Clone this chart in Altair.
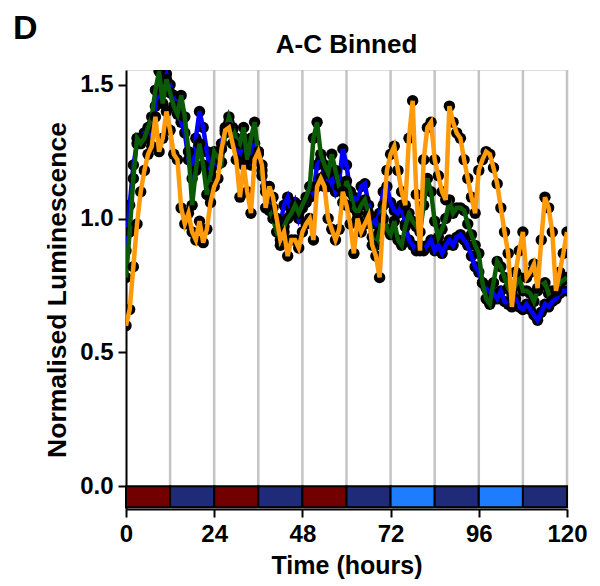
import altair as alt
import pandas as pd

hours = list(range(0, 121))

orange = [0.60, 0.66, 0.82, 0.98, 1.10, 1.18, 1.24, 1.27, 1.38, 1.25,
          1.30, 1.40, 1.33, 1.24, 1.22, 1.04, 0.98, 1.02, 0.95, 0.92,
          0.99, 0.91, 0.96, 1.06, 1.12, 1.15, 1.26, 1.33, 1.34, 1.28,
          1.22, 1.08, 1.20, 1.10, 1.02, 1.22, 1.25, 1.20, 1.04, 1.12,
          1.08, 1.00, 0.92, 0.95, 0.86, 0.92, 0.92, 0.89, 0.95, 0.98,
          1.00, 0.92, 1.12, 1.15, 1.12, 1.00, 0.96, 0.92, 0.96, 1.10,
          1.05, 0.98, 0.87, 1.00, 0.95, 0.98, 1.01, 0.90, 0.86, 0.78,
          1.00, 1.18, 1.24, 1.27, 1.18, 1.10, 1.05, 1.30, 1.44, 1.09,
          0.88, 1.22, 1.34, 1.36, 1.22, 1.16, 1.10, 1.07, 1.42, 1.36,
          1.32, 1.30, 1.22, 1.15, 1.08, 1.02, 1.18, 1.22, 1.25, 1.24,
          1.19, 1.13, 1.04, 0.95, 0.87, 0.67, 0.80, 0.88, 0.95, 0.78,
          0.80, 0.83, 0.74, 0.92, 1.08, 1.04, 0.95, 0.73, 0.80, 0.87,
          0.95]

green = [0.78, 0.95, 1.15, 1.30, 1.28, 1.30, 1.34, 1.38, 1.48, 1.55,
         1.43, 1.52, 1.47, 1.42, 1.39, 1.46, 1.38, 1.25, 1.05, 1.18,
         1.28, 1.20, 1.09, 1.16, 1.25, 1.23, 1.21, 1.32, 1.38, 1.34,
         1.30, 1.28, 1.34, 1.22, 1.30, 1.36, 1.24, 1.16, 1.10, 1.03,
         1.00, 0.95, 0.90, 0.97, 1.00, 1.02, 1.05, 1.02, 1.05, 1.08,
         1.12, 1.30, 1.36, 1.24, 1.20, 1.17, 1.24, 1.18, 1.12, 1.06,
         1.14, 1.10, 1.04, 1.02, 1.05, 1.07, 1.02, 0.93, 0.90, 0.95,
         1.05, 0.96, 0.94, 0.99, 0.92, 0.90, 0.97, 1.02, 0.99, 0.97,
         0.95, 1.05, 1.15, 1.10, 0.99, 0.93, 0.96, 1.00, 1.07, 1.02,
         1.04, 1.04, 1.03, 0.98, 0.94, 0.90, 0.87, 0.76, 0.70, 0.68,
         0.76, 0.84, 0.82, 0.78, 0.74, 0.72, 0.75, 0.78, 0.73, 0.73,
         0.72, 0.69, 0.73, 0.75, 0.76, 0.72, 0.73, 0.73, 0.76, 0.77,
         0.78]

blue = [0.88, 1.05, 1.20, 1.28, 1.30, 1.32, 1.30, 1.35, 1.42, 1.46,
        1.52, 1.54, 1.50, 1.46, 1.42, 1.36, 1.32, 1.22, 1.15, 1.30,
        1.40, 1.34, 1.25, 1.18, 1.22, 1.20, 1.28, 1.34, 1.36, 1.33,
        1.28, 1.24, 1.30, 1.26, 1.20, 1.28, 1.25, 1.18, 1.12, 1.06,
        1.04, 1.00, 0.98, 1.05, 1.08, 1.02, 1.06, 1.00, 1.04, 1.06,
        1.08, 1.10, 1.20, 1.22, 1.16, 1.12, 1.15, 1.10, 1.14, 1.26,
        1.20, 1.10, 1.08, 1.06, 1.12, 1.13, 1.05, 1.00, 0.98, 1.02,
        1.10, 1.12, 1.06, 1.03, 1.02, 1.05, 0.98, 0.92, 0.90, 0.88,
        0.90, 0.88, 0.90, 0.92, 0.88, 0.90, 0.87, 0.90, 0.92, 0.90,
        0.93, 0.94, 0.92, 0.90, 0.86, 0.82, 0.80, 0.76, 0.74, 0.72,
        0.72, 0.70, 0.73, 0.69, 0.68, 0.68, 0.70, 0.67, 0.66, 0.68,
        0.66, 0.64, 0.62, 0.65, 0.68, 0.67, 0.69, 0.70, 0.72, 0.73,
        0.73]

series_names = ["blue", "green", "orange"]
series_values = [blue, green, orange]
series_colors = ["#0000ff", "#0b5a06", "#ff9a0a"]

bar_start = [0, 12, 24, 36, 48, 60, 72, 84, 96, 108]
bar_end = [12, 24, 36, 48, 60, 72, 84, 96, 108, 120]
bar_colors = ["#720000", "#1f2a78", "#720000", "#1f2a78", "#720000",
              "#1f2a78", "#1e7dff", "#1f2a78", "#1e7dff", "#1f2a78"]

grid_hours = list(range(12, 121, 12))
x_ticks = [0, 24, 48, 72, 96, 120]
y_ticks = [0.0, 0.5, 1.0, 1.5]

title_text = "A-C Binned"
panel_text = "D"

FONT = "Liberation Sans"

xscale = alt.Scale(domain=[0, 120], nice=False, zero=False)
yscale = alt.Scale(domain=[-0.085, 1.555], nice=False, zero=False)

xaxis = alt.Axis(values=x_ticks, title="Time (hours)", grid=False,
                 labelFont=FONT, labelFontSize=24, labelFontWeight="bold",
                 labelColor="black", titleFont=FONT, titleFontSize=25,
                 titleFontWeight="bold", titleColor="black",
                 domainColor="black", domainWidth=2, tickColor="black",
                 tickWidth=2, tickSize=8, labelPadding=5, titlePadding=7,
                 labelFlush=False)
yaxis = alt.Axis(values=y_ticks, format=".1f", title="Normalised Luminescence",
                 grid=False, labelFont=FONT, labelFontSize=24,
                 labelFontWeight="bold", labelColor="black", titleFont=FONT,
                 titleFontSize=26.5, titleFontWeight="bold", titleColor="black",
                 domainColor="black", domainWidth=2, tickColor="black",
                 tickWidth=2, tickSize=8, labelPadding=5, titlePadding=8)

grid_df = pd.DataFrame({"t": grid_hours})
grid = alt.Chart(grid_df).mark_rule(color="#c4c4c4", strokeWidth=2.5).encode(
    x=alt.X("t:Q", scale=xscale, axis=xaxis),
    y=alt.value(0),
    y2=alt.value(439),
)

layers = [grid]
for name, vals, col in zip(series_names, series_values, series_colors):
    df = pd.DataFrame({"t": hours, "v": vals})
    base = alt.Chart(df).encode(
        x=alt.X("t:Q", scale=xscale, axis=xaxis),
        y=alt.Y("v:Q", scale=yscale, axis=yaxis),
    )
    layers.append(base.mark_circle(color="black", size=130, opacity=1, clip=True))
    layers.append(base.mark_line(color=col, strokeWidth=4.5, clip=True))

bar_df = pd.DataFrame({"s": bar_start, "e": bar_end, "c": bar_colors})
bars = alt.Chart(bar_df).mark_rect(stroke="black", strokeWidth=2).encode(
    x=alt.X("s:Q", scale=xscale, axis=xaxis),
    x2="e:Q",
    y=alt.Y(datum=0.0, scale=yscale, axis=yaxis),
    y2=alt.datum(-0.078),
    color=alt.Color("c:N", scale=None),
)
layers.append(bars)

label_df = pd.DataFrame({"txt": [panel_text]})
panel_label = alt.Chart(label_df).mark_text(
    align="left", baseline="alphabetic", font=FONT, fontSize=34,
    fontWeight="bold", color="black").encode(
    x=alt.value(-113), y=alt.value(-31), text="txt:N")
layers.append(panel_label)

title_df = pd.DataFrame({"txt": [title_text]})
title_mark = alt.Chart(title_df).mark_text(
    align="center", baseline="alphabetic", font=FONT, fontSize=26,
    fontWeight="bold", color="black").encode(
    x=alt.value(220.5), y=alt.value(-17), text="txt:N")
layers.append(title_mark)

chart = alt.layer(*layers).properties(
    width=441, height=439,
    autosize=alt.AutoSizeParams(type="none"),
    padding={"left": 118, "top": 62, "right": 20, "bottom": 70},
).configure_view(stroke="#c4c4c4", strokeWidth=2).configure(background="white")

chart.save("out.html", embed_options={"renderer": "svg", "actions": False})
